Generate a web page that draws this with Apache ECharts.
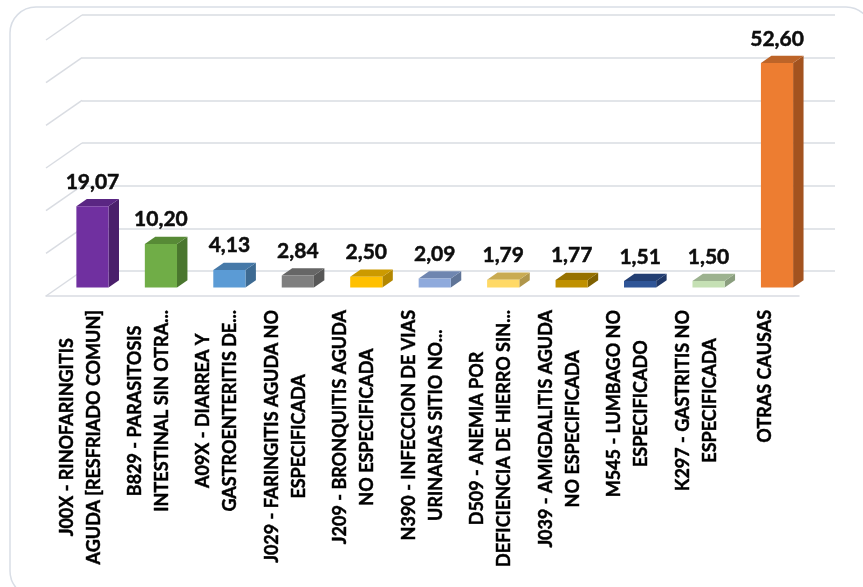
<!DOCTYPE html>
<html>
<head>
<meta charset="utf-8">
<script src="https://cdn.jsdelivr.net/npm/echarts@6/dist/echarts.min.js"></script>
<style>
  html, body { margin: 0; padding: 0; background: #ffffff; }
  #chart { width: 863px; height: 587px; }
</style>
</head>
<body>
<div id="chart"></div>
<script>
// Causes of consultation (percentage of total)
const categories = [
  'J00X - RINOFARINGITIS\nAGUDA [RESFRIADO COMUN]',
  'B829 - PARASITOSIS\nINTESTINAL SIN OTRA...',
  'A09X - DIARREA Y\nGASTROENTERITIS DE...',
  'J029 - FARINGITIS AGUDA NO\nESPECIFICADA',
  'J209 - BRONQUITIS AGUDA\nNO ESPECIFICADA',
  'N390 - INFECCION DE VIAS\nURINARIAS SITIO NO...',
  'D509 - ANEMIA POR\nDEFICIENCIA DE HIERRO SIN...',
  'J039 - AMIGDALITIS AGUDA\nNO ESPECIFICADA',
  'M545 - LUMBAGO NO\nESPECIFICADO',
  'K297 - GASTRITIS NO\nESPECIFICADA',
  'OTRAS CAUSAS'
];
const values = [19.07, 10.20, 4.13, 2.84, 2.50, 2.09, 1.79, 1.77, 1.51, 1.50, 52.60];

// Face colours for each box: front, top, side
const frontColors = ['#7030a0', '#70ad47', '#5b9bd5', '#7f7f7f', '#ffc000', '#8faadc', '#ffd966', '#bf9000', '#2f5597', '#c5e0b4', '#ed7d31'];
const topColors   = ['#5a2683', '#578a36', '#4679a8', '#666666', '#cc9a00', '#6f86b0', '#c9ab52', '#967100', '#233f73', '#9cb28f', '#bd6428'];
const sideColors  = ['#4a1f6b', '#4a762e', '#3d6a92', '#575757', '#b38700', '#5f7497', '#b0964a', '#7f6000', '#1f3766', '#8a9e7e', '#a3531f'];

// Perspective layout: back wall rectangle and the floor depth vector
const WALL = { x: 82, y: 15, w: 753, h: 256 };
const DEPTH = [36, -25];
const BAR_POS = 0.34;    // where the bar front sits across the floor depth
const BAR_DEPTH = 0.29;  // bar thickness as a share of the floor depth
const BAR_WIDTH = 0.47;  // bar width as a share of the category band
const Y_MAX = 60, Y_STEP = 10;
const GRID_COLOR = '#d9dce2';

const fmt = v => v.toFixed(2).replace('.', ',');

const gridTicks = [];
for (let t = 0; t <= Y_MAX; t += Y_STEP) gridTicks.push(t);

const chart = echarts.init(document.getElementById('chart'), null, { renderer: 'canvas' });

chart.setOption({
  backgroundColor: '#ffffff',
  animation: false,
  textStyle: { fontFamily: 'Lato' },
  graphic: [{
    type: 'rect',
    shape: { x: 10, y: 7, width: 862, height: 590, r: 26 },
    style: { fill: 'none', stroke: '#d9dee6', lineWidth: 1.5 },
    silent: true,
    z: -10
  }],
  grid: [
    { left: WALL.x, top: WALL.y, width: WALL.w, height: WALL.h },
    { left: WALL.x - DEPTH[0], top: WALL.y - DEPTH[1], width: WALL.w, height: WALL.h }
  ],
  xAxis: [
    { gridIndex: 0, type: 'category', data: categories, show: false },
    {
      gridIndex: 1, type: 'category', data: categories,
      axisLine: { show: true, lineStyle: { color: GRID_COLOR, width: 1.5 } },
      axisTick: { show: false },
      axisLabel: {
        interval: 0,
        rotate: 90,
        margin: 14,
        formatter: s => s.split('\n').map(l => '{c|' + l + '}').join('\n'),
        rich: {
          c: {
            align: 'center', fontFamily: 'Lato', fontWeight: 'bold', fontSize: 18, lineHeight: 27,
            color: '#000000', textBorderColor: '#000000', textBorderWidth: 0.45
          }
        }
      }
    }
  ],
  yAxis: [
    {
      gridIndex: 0, type: 'value', min: 0, max: Y_MAX, interval: Y_STEP,
      axisLine: { show: false }, axisTick: { show: false }, axisLabel: { show: false },
      splitLine: { show: true, lineStyle: { color: GRID_COLOR, width: 1.5 } }
    },
    { gridIndex: 1, type: 'value', min: 0, max: Y_MAX, interval: Y_STEP, show: false, splitLine: { show: false } }
  ],
  series: [
    {
      // side wall: gridlines running from the floor front to the back wall
      type: 'custom',
      xAxisIndex: 1, yAxisIndex: 1,
      silent: true,
      data: gridTicks.map(t => [0, t]),
      encode: { x: 0, y: 1 },
      renderItem: (params, api) => {
        const y = api.coord([0, api.value(1)])[1];
        const x = params.coordSys.x;
        return {
          type: 'line',
          shape: { x1: x, y1: y, x2: x + DEPTH[0], y2: y + DEPTH[1] },
          style: { stroke: GRID_COLOR, lineWidth: 1.5 }
        };
      }
    },
    {
      // 3D boxes with value labels
      type: 'custom',
      xAxisIndex: 1, yAxisIndex: 1,
      data: values.map((v, i) => [i, v]),
      encode: { x: 0, y: 1 },
      renderItem: (params, api) => {
        const i = api.value(0), v = api.value(1);
        const base = api.coord([i, 0]);
        const top = api.coord([i, v]);
        const band = api.size([1, 0])[0];
        const w = band * BAR_WIDTH;
        const ox = DEPTH[0] * BAR_POS, oy = DEPTH[1] * BAR_POS;
        const dx = DEPTH[0] * BAR_DEPTH, dy = DEPTH[1] * BAR_DEPTH;
        const x0 = base[0] + ox - w / 2, x1 = x0 + w;
        const yb = base[1] + oy, yt = top[1] + oy;
        const idx = params.dataIndex;
        return {
          type: 'group',
          children: [
            {
              type: 'polygon',
              shape: { points: [[x1, yt], [x1 + dx, yt + dy], [x1 + dx, yb + dy], [x1, yb]] },
              style: { fill: sideColors[idx] }
            },
            {
              type: 'polygon',
              shape: { points: [[x0, yt], [x1, yt], [x1 + dx, yt + dy], [x0 + dx, yt + dy]] },
              style: { fill: topColors[idx] }
            },
            {
              type: 'rect',
              shape: { x: x0, y: yt, width: w, height: yb - yt },
              style: { fill: frontColors[idx] }
            },
            {
              type: 'text',
              x: (x0 + x1) / 2,
              y: yt + dy - 17,
              style: {
                text: fmt(v),
                fontFamily: 'Lato', fontWeight: 'bold', fontSize: 21,
                fill: '#0d0d0d', stroke: '#0d0d0d', lineWidth: 0.5,
                align: 'center', verticalAlign: 'middle'
              }
            }
          ]
        };
      }
    }
  ]
});
</script>
</body>
</html>
